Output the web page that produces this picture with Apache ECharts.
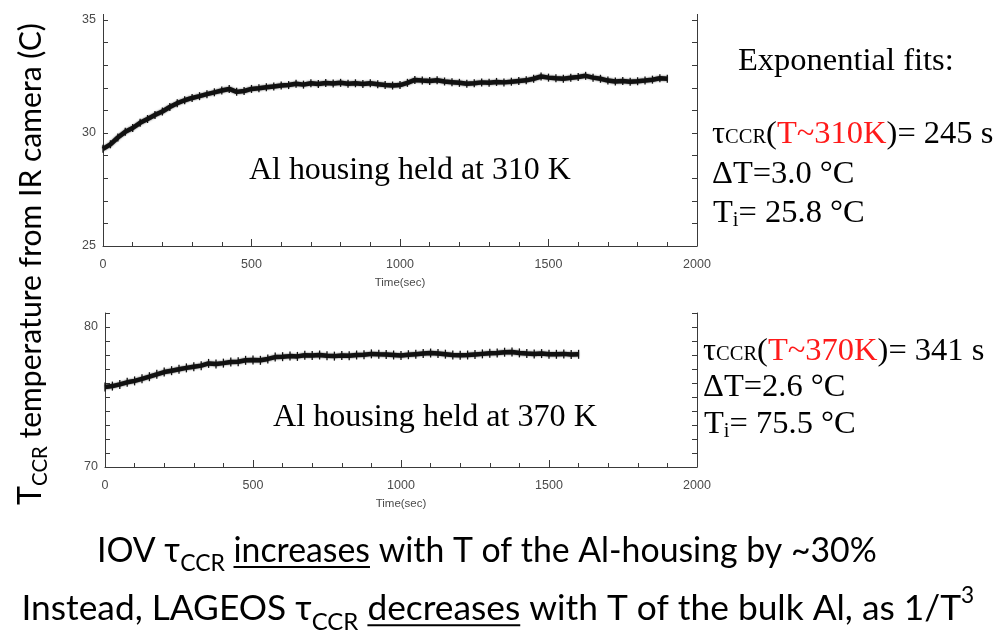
<!DOCTYPE html>
<html><head><meta charset="utf-8">
<script src="https://cdn.jsdelivr.net/npm/echarts@6/dist/echarts.min.js"></script>
<style>html,body{margin:0;padding:0;background:#fff}#c{width:999px;height:631px}</style>
</head><body><div id="c"></div>
<script>
// ---------- data ----------
const timesTop = [0,25,50,75,100,125,150,175,200,225,250,275,300,325,350,375,400,425,450,475,500,525,550,575,600,625,650,675,700,725,750,775,800,825,850,875,900,925,950,975,1000,1025,1050,1075,1100,1125,1150,1175,1200,1225,1250,1275,1300,1325,1350,1375,1400,1425,1450,1475,1500,1525,1550,1575,1600,1625,1650,1675,1700,1725,1750,1775,1800,1825,1850,1875,1900];
const tempTop = [29.30,29.50,29.80,30.05,30.22,30.45,30.62,30.80,30.95,31.15,31.32,31.45,31.55,31.63,31.72,31.80,31.88,31.95,31.82,31.86,31.95,31.98,32.02,32.06,32.10,32.12,32.18,32.14,32.20,32.17,32.21,32.19,32.22,32.18,32.20,32.17,32.20,32.16,32.12,32.10,32.12,32.22,32.35,32.32,32.30,32.33,32.28,32.25,32.22,32.18,32.20,32.24,32.22,32.26,32.24,32.27,32.30,32.33,32.40,32.50,32.45,32.42,32.40,32.44,32.48,32.53,32.45,32.40,32.32,32.28,32.30,32.27,32.29,32.32,32.36,32.42,32.40];
const timesBottom = [0,25,50,75,100,125,150,175,200,225,250,275,300,325,350,375,400,425,450,475,500,525,550,575,600,625,650,675,700,725,750,775,800,825,850,875,900,925,950,975,1000,1025,1050,1075,1100,1125,1150,1175,1200,1225,1250,1275,1300,1325,1350,1375,1400,1425,1450,1475,1500,1525,1550,1575,1600];
const tempBottom = [75.72,75.78,75.90,76.05,76.15,76.30,76.45,76.62,76.78,76.88,76.98,77.08,77.16,77.24,77.40,77.36,77.42,77.50,77.52,77.62,77.64,77.62,77.72,77.85,77.88,77.92,77.90,77.98,77.96,78.00,77.95,77.92,77.96,77.94,78.00,78.02,78.08,78.05,78.04,78.00,77.96,78.02,78.06,78.10,78.14,78.10,78.06,78.00,77.98,78.00,78.04,78.08,78.12,78.15,78.20,78.22,78.15,78.10,78.08,78.10,78.06,78.05,78.08,78.04,78.05];
const xTickLabels = [0,500,1000,1500,2000];
const yLabelsTop = [25,30,35];
const yLabelsBottom = [70,80];

// ---------- text helpers ----------
const SERIF = "'Liberation Serif', 'DejaVu Serif', serif";
const HUM = "Lato, 'Open Sans', 'DejaVu Sans', sans-serif";
const mctx = document.createElement('canvas').getContext('2d');
function tw(t, s, f) { mctx.font = s + 'px ' + f; return mctx.measureText(t).width; }
const K = 0.3;
function run(parts, x, base, opt) {
  opt = opt || {};
  const fam = opt.f || SERIF;
  let total = parts.reduce((a, p) => a + tw(p.t, p.s, fam), 0);
  let scale = 1;
  if (opt.width) { scale = opt.width / total; total = opt.width; }
  let cx = opt.align === 'center' ? x - total / 2 : x;
  const els = [];
  parts.forEach(p => {
    const s = p.s * scale;
    const pw = tw(p.t, s, fam);
    els.push({type: 'text', x: cx, y: base + (p.dy || 0) * scale - K * s, silent: true,
      style: {text: p.t, fill: p.c || '#000', fontSize: s, fontFamily: fam, align: 'left', verticalAlign: 'middle'}});
    if (p.ul) {
      els.push({type: 'line', silent: true, shape: {x1: cx, y1: base + 5 * scale, x2: cx + pw, y2: base + 5 * scale},
        style: {stroke: '#000', lineWidth: 2}});
    }
    cx += pw;
  });
  return els;
}

const RS = 32.5;
const SUB = 20.5;
let graphics = [];
graphics = graphics.concat(
  run([{t: 'Exponential fits:', s: RS}], 738, 71),
  run([{t: 'τ', s: RS}, {t: 'CCR', s: SUB}, {t: '(', s: RS}, {t: 'T~310K', s: RS, c: '#ff1a1a'}, {t: ')= 245 s', s: RS}], 712, 144),
  run([{t: 'ΔT=3.0 °C', s: RS}], 712, 184),
  run([{t: 'T', s: RS}, {t: 'i', s: SUB, dy: 4}, {t: '= 25.8 °C', s: RS}], 713, 223),
  run([{t: 'τ', s: RS}, {t: 'CCR', s: SUB}, {t: '(', s: RS}, {t: 'T~370K', s: RS, c: '#ff1a1a'}, {t: ')= 341 s', s: RS}], 703, 361),
  run([{t: 'ΔT=2.6 °C', s: RS}], 703, 397),
  run([{t: 'T', s: RS}, {t: 'i', s: SUB, dy: 4}, {t: '= 75.5 °C', s: RS}], 704, 434),
  run([{t: 'Al housing held at 310 K', s: 30}], 410, 180, {align: 'center', width: 322}),
  run([{t: 'Al housing held at 370 K', s: 30}], 435, 427, {align: 'center', width: 324}),
  run([{t: 'IOV τ', s: 28}, {t: 'CCR', s: 19, dy: 8}, {t: ' ', s: 28}, {t: 'increases', s: 28, ul: true}, {t: ' with T of the Al-housing by ~30%', s: 28}], 487, 561, {align: 'center', width: 780, f: HUM}),
  run([{t: 'Instead, LAGEOS τ', s: 28}, {t: 'CCR', s: 19, dy: 8}, {t: ' ', s: 28}, {t: 'decreases', s: 28, ul: true}, {t: ' with T of the bulk Al, as 1/T', s: 28}, {t: '3', s: 18, dy: -13}], 498, 619, {align: 'center', width: 953, f: HUM})
);
graphics.push({type: 'group', x: 40, y: 505, rotation: Math.PI / 2, silent: true,
  children: run([{t: 'T', s: 30}, {t: 'CCR', s: 19, dy: 6}, {t: ' temperature from IR camera (C)', s: 28}], 0, 0, {width: 482, f: HUM})});
// small axis extension above the top of each plot, as in the picture
function ext(x, y1, y2) { return {type: 'line', silent: true, shape: {x1: x, y1: y1, x2: x, y2: y2}, style: {stroke: '#3a3a3a', lineWidth: 1}}; }
graphics.push(ext(103.5, 14, 20), ext(697.5, 14, 20));

// ---------- chart ----------
const AX = '#3a3a3a';
const lblStyle = {color: '#4a4a4a', fontFamily: "'Liberation Sans', sans-serif", fontSize: 12.5};
function xAx(gi) {
  return {type: 'value', gridIndex: gi, min: 0, max: 2000, interval: 500,
    axisLine: {show: true, onZero: false, lineStyle: {color: AX, width: 1}},
    axisTick: {show: true, inside: true, length: 7, lineStyle: {color: AX}},
    minorTick: {show: true, splitNumber: 5, length: 4, lineStyle: {color: AX}},
    splitLine: {show: false}, minorSplitLine: {show: false},
    axisLabel: Object.assign({margin: 12, formatter: v => xTickLabels.includes(v) ? String(v) : ''}, lblStyle),
    name: 'Time(sec)', nameLocation: 'middle', nameGap: 31, nameTextStyle: Object.assign({}, lblStyle, {fontSize: 11.5})};
}
function yAx(gi, min, max, labels, pos) {
  return {type: 'value', gridIndex: gi, min: min, max: max, interval: 1, position: pos,
    axisLine: {show: true, onZero: false, lineStyle: {color: AX, width: 1}},
    axisTick: {show: true, inside: true, length: 5, lineStyle: {color: AX}},
    splitLine: {show: false},
    axisLabel: pos === 'left' ? Object.assign({margin: 7, formatter: v => labels.includes(v) ? String(v) : ''}, lblStyle) : {show: false}};
}
const lineLook = {color: '#111', width: 4.5, shadowBlur: 2, shadowColor: 'rgba(0,0,0,0.7)'};
const chart = echarts.init(document.getElementById('c'), null, {renderer: 'canvas'});
chart.setOption({
  animation: false,
  backgroundColor: '#fff',
  grid: [{left: 103, width: 594, top: 20, height: 226}, {left: 105, width: 592, top: 313, height: 154}],
  xAxis: [xAx(0), xAx(1)],
  yAxis: [yAx(0, 25, 35, yLabelsTop, 'left'), yAx(0, 25, 35, yLabelsTop, 'right'),
          yAx(1, 70, 81, yLabelsBottom, 'left'), yAx(1, 70, 81, yLabelsBottom, 'right')],
  series: [
    {type: 'line', xAxisIndex: 0, yAxisIndex: 0, data: timesTop.map((t, i) => [t, tempTop[i]]),
     symbol: 'rect', symbolSize: [1.3, 8], showSymbol: true, itemStyle: {color: '#111'},
     lineStyle: lineLook, silent: true},
    {type: 'line', xAxisIndex: 1, yAxisIndex: 2, data: timesBottom.map((t, i) => [t, tempBottom[i]]),
     symbol: 'rect', symbolSize: [1.3, 9], showSymbol: true, itemStyle: {color: '#111'},
     lineStyle: lineLook, silent: true}
  ],
  graphic: graphics
});
</script></body></html>
